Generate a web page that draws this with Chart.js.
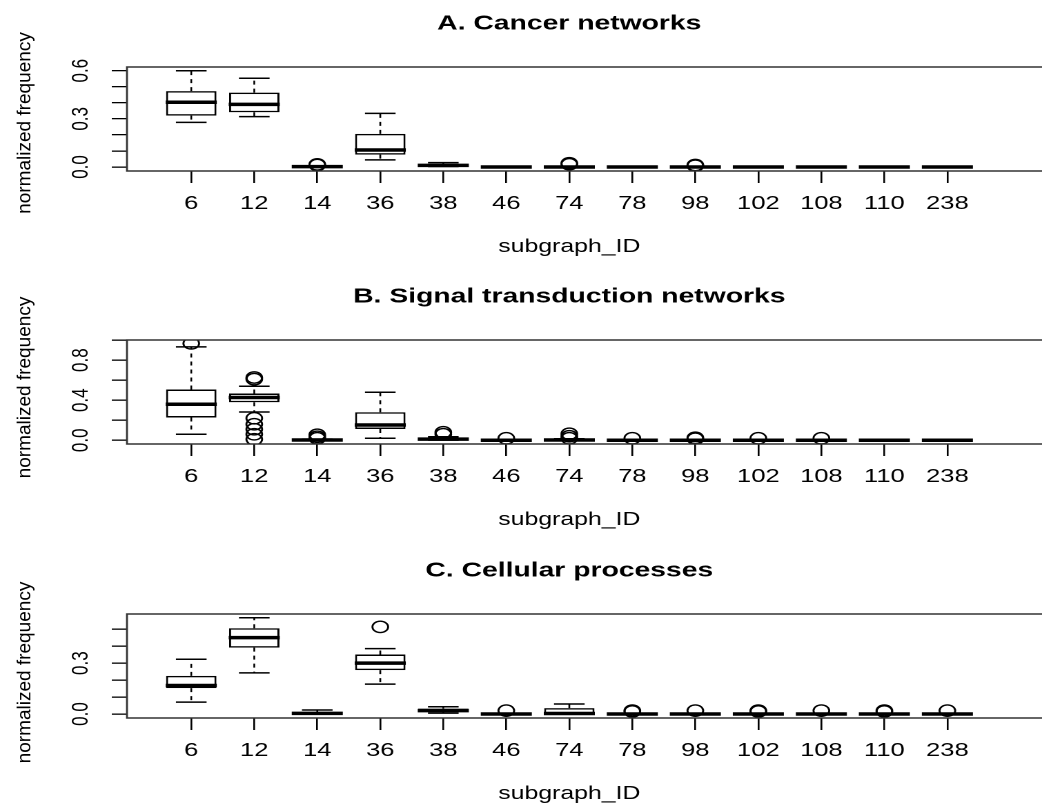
<!DOCTYPE html>
<html>
<head>
<meta charset="utf-8">
<script src="https://cdn.jsdelivr.net/npm/chart.js@4.4.1/dist/chart.umd.min.js"></script>
<style>
  body { margin: 0; background: #fff; }
  #wrap { position: relative; width: 1042px; height: 803px; overflow: hidden; background: #fff; }
  #wrap canvas { position: absolute; left: 0; }
</style>
</head>
<body>
<div id="wrap">
  <canvas id="panelA" width="755" height="273" style="top:0px;width:1042px;height:273px"></canvas>
  <canvas id="panelB" width="755" height="273" style="top:273px;width:1042px;height:273px"></canvas>
  <canvas id="panelC" width="755" height="273" style="top:547px;width:1042px;height:273px"></canvas>
</div>
<script>
const categories = ['6', '12', '14', '36', '38', '46', '74', '78', '98', '102', '108', '110', '238'];

// A. Cancer networks
const aLow  = [0.278, 0.314, 0.000, 0.044, 0.003, 0, 0, 0, 0, 0, 0, 0, 0];
const aQ1   = [0.320, 0.341, 0.000, 0.077, 0.006, 0, 0, 0, 0, 0, 0, 0, 0];
const aMed  = [0.403, 0.390, 0.002, 0.106, 0.010, 0, 0, 0, 0, 0, 0, 0, 0];
const aQ3   = [0.473, 0.463, 0.004, 0.206, 0.016, 0, 0.002, 0, 0.002, 0, 0, 0, 0];
const aHigh = [0.600, 0.553, 0.008, 0.334, 0.027, 0, 0.004, 0, 0.004, 0, 0, 0, 0];
const aOut  = [[], [], [0.016, 0.012], [], [], [], [0.023, 0.017], [], [0.012, 0.008], [], [], [], []];

// B. Signal transduction networks
const bLow  = [0.060, 0.283, 0, 0.020, 0.002, 0, 0, 0, 0, 0, 0, 0, 0];
const bQ1   = [0.227, 0.380, 0, 0.113, 0.005, 0, 0, 0, 0, 0, 0, 0, 0];
const bMed  = [0.360, 0.427, 0.003, 0.153, 0.012, 0, 0.003, 0, 0, 0, 0, 0, 0];
const bQ3   = [0.507, 0.467, 0.006, 0.280, 0.020, 0.002, 0.008, 0.002, 0.003, 0.002, 0.002, 0, 0];
const bHigh = [0.933, 0.540, 0.012, 0.480, 0.035, 0.004, 0.015, 0.004, 0.006, 0.004, 0.004, 0, 0];
const bOut  = [[0.967], [0.627, 0.61, 0.22, 0.16, 0.11, 0.06, 0.01], [0.055, 0.035, 0.02], [], [0.08, 0.06],
               [0.02], [0.065, 0.04, 0.02], [0.02], [0.025, 0.015], [0.02], [0.02], [], []];

// C. Cellular processes
const cLow  = [0.070, 0.243, 0, 0.176, 0.005, 0, 0, 0, 0, 0, 0, 0, 0];
const cQ1   = [0.153, 0.392, 0, 0.259, 0.012, 0, 0, 0, 0, 0, 0, 0, 0];
const cMed  = [0.168, 0.451, 0.004, 0.300, 0.020, 0, 0.003, 0, 0, 0, 0, 0, 0];
const cQ3   = [0.225, 0.506, 0.010, 0.351, 0.032, 0.002, 0.035, 0.002, 0.002, 0.002, 0.002, 0.002, 0.002];
const cHigh = [0.323, 0.568, 0.024, 0.386, 0.043, 0.004, 0.059, 0.004, 0.004, 0.004, 0.004, 0.004, 0.004];
const cOut  = [[], [], [], [0.514], [], [0.02], [], [0.02, 0.015], [0.02], [0.02, 0.015], [0.02], [0.02, 0.015], [0.02]];

const aTicks = [0, 0.1, 0.2, 0.3, 0.4, 0.5, 0.6];
const aLabels = [0, 0.3, 0.6];
const bTicks = [0, 0.2, 0.4, 0.6, 0.8, 1.0];
const bLabels = [0, 0.4, 0.8];
const cTicks = [0, 0.1, 0.2, 0.3, 0.4, 0.5];
const cLabels = [0, 0.3];

// canvas is drawn at 755px and stretched to 1042px, like the original
const STRETCH = 1042 / 755;
const FONT = '"Liberation Sans", Arial, Helvetica, sans-serif';
Chart.defaults.font.family = FONT;
Chart.defaults.color = '#000';

const framePlugin = {
    id: 'frame',
    afterDatasetsDraw(chart) {
        const { ctx, chartArea: a } = chart;
        ctx.save();
        ctx.strokeStyle = '#333';
        ctx.lineWidth = 1.4;
        ctx.beginPath();
        ctx.moveTo(chart.width, a.top);
        ctx.lineTo(a.left, a.top);
        ctx.lineTo(a.left, a.bottom);
        ctx.lineTo(chart.width, a.bottom);
        ctx.stroke();
        ctx.restore();
    }
};

// y title is not stretched in the original, so undo the stretch here
const yTitlePlugin = {
    id: 'yTitle',
    afterDraw(chart, args, opts) {
        const ctx = chart.ctx;
        ctx.save();
        ctx.scale(1 / STRETCH, 1);
        ctx.translate(25, opts.y);
        ctx.rotate(-Math.PI / 2);
        ctx.font = '19px ' + FONT;
        ctx.fillStyle = '#000';
        ctx.textAlign = 'center';
        ctx.textBaseline = 'middle';
        ctx.fillText(opts.text, 0, 0);
        ctx.restore();
    }
};

function boxDatasets(low, q1, med, q3, high, out) {
    const xs = categories.map((c, i) => i + 1);
    const whiskers = [];
    const caps = [];
    const outliers = [];
    xs.forEach((x, i) => {
        whiskers.push({ x, y: q3[i] }, { x, y: high[i] }, { x, y: null });
        whiskers.push({ x, y: q1[i] }, { x, y: low[i] }, { x, y: null });
        caps.push({ x, y: low[i] }, { x, y: high[i] });
        out[i].forEach(v => outliers.push({ x, y: v }));
    });
    return [
        { type: 'line', data: whiskers, borderColor: '#000', borderWidth: 1.3, borderDash: [4, 4],
          pointRadius: 0, spanGaps: false, order: 5 },
        { type: 'bar', data: xs.map((x, i) => ({ x, y: [q1[i], q3[i]] })), backgroundColor: '#fff',
          borderColor: '#000', borderWidth: 1.5, borderSkipped: false, barPercentage: 0.8,
          categoryPercentage: 1, order: 4 },
        { type: 'line', data: caps, showLine: false, pointStyle: 'line', pointRadius: 11.1,
          pointBorderWidth: 1.5, borderColor: '#000', order: 3 },
        { type: 'line', data: xs.map((x, i) => ({ x, y: med[i] })), showLine: false, pointStyle: 'line',
          pointRadius: 18.5, pointBorderWidth: 3.5, borderColor: '#000', order: 2 },
        { type: 'line', data: outliers, showLine: false, pointStyle: 'circle', pointRadius: 5.7,
          pointBorderWidth: 1.4, borderColor: '#000', pointBackgroundColor: 'rgba(0,0,0,0)', order: 1 }
    ];
}

function makePanel(id, title, sets, yMin, yMax, yTicks, yLabels, ylabY) {
    new Chart(document.getElementById(id), {
        type: 'bar',
        data: { datasets: sets },
        options: {
            responsive: false,
            devicePixelRatio: 2,
            animation: false,
            events: [],
            layout: { padding: { left: 0, right: 11.5, top: 0, bottom: 0 } },
            plugins: {
                legend: { display: false },
                tooltip: { enabled: false },
                title: {
                    display: true, text: title, fullSize: false, color: '#000',
                    font: { size: 20.5, weight: 'bold' },
                    padding: { top: 11.7, bottom: 30.7 }
                },
                yTitle: { text: 'normalized frequency', y: ylabY }
            },
            scales: {
                x: {
                    type: 'linear', min: -0.02, max: 14.02, offset: false,
                    afterBuildTicks: s => { s.ticks = categories.map((c, i) => ({ value: i + 1 })); },
                    afterFit: s => { s.height = 102; },
                    ticks: {
                        autoSkip: false, maxRotation: 0, padding: 10, color: '#000',
                        font: { size: 18.5 },
                        callback: v => categories[Math.round(v) - 1]
                    },
                    grid: { offset: false, drawOnChartArea: false, drawTicks: true, tickLength: 12, color: '#000', lineWidth: 1.3 },
                    border: { display: false },
                    title: { display: true, text: 'subgraph_ID', color: '#000', font: { size: 18 }, padding: { top: 0, bottom: 15.2 } }
                },
                y: {
                    type: 'linear', min: yMin, max: yMax,
                    afterBuildTicks: s => { s.ticks = yTicks.map(v => ({ value: v })); },
                    afterFit: s => { s.width = 92; },
                    ticks: {
                        autoSkip: false, minRotation: 90, maxRotation: 90, crossAlign: 'center',
                        padding: 10.5, color: '#000', font: { size: 17 },
                        callback: v => yLabels.some(l => Math.abs(l - v) < 1e-9) ? v.toFixed(1) : ''
                    },
                    grid: { drawOnChartArea: false, drawTicks: true, tickLength: 11, color: '#000', lineWidth: 1.3 },
                    border: { display: false }
                }
            }
        },
        plugins: [framePlugin, yTitlePlugin]
    });
}

makePanel('panelA', 'A. Cancer networks', boxDatasets(aLow, aQ1, aMed, aQ3, aHigh, aOut),
    -0.025, 0.623, aTicks, aLabels, 123);
makePanel('panelB', 'B. Signal transduction networks', boxDatasets(bLow, bQ1, bMed, bQ3, bHigh, bOut),
    -0.037, 1.001, bTicks, bLabels, 114.5);
makePanel('panelC', 'C. Cellular processes', boxDatasets(cLow, cQ1, cMed, cQ3, cHigh, cOut),
    -0.0235, 0.59, cTicks, cLabels, 125.5);
</script>
</body>
</html>
